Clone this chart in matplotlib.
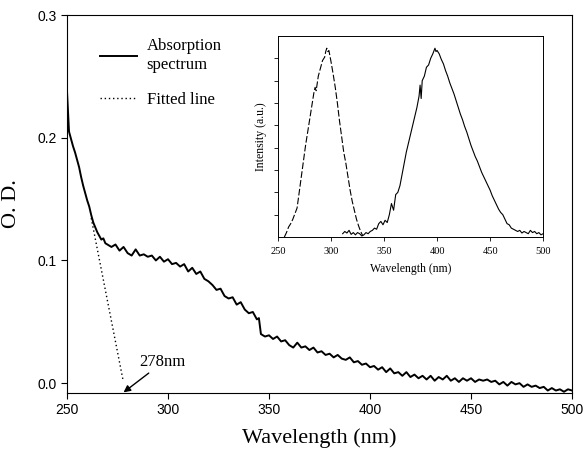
import matplotlib.pyplot as plt

# absorption spectrum (main panel)
wl_abs = [250, 250.5, 251, 252, 253, 254, 255, 256, 257, 258, 259, 260, 261, 262, 263, 264,
          265, 266, 267, 268, 269, 270, 272, 274, 276, 278, 280, 282, 284, 286, 288, 290,
          292, 294, 296, 298, 300, 302, 304, 306, 308, 310, 312, 314, 316, 318, 320, 322,
          324, 326, 328, 330, 332, 334, 336, 338, 340, 342, 344, 345, 346, 348, 350, 352,
          354, 356, 358, 360, 362, 364, 366, 368, 370, 372, 374, 376, 378, 380, 382, 384,
          386, 388, 390, 392, 394, 396, 398, 400, 402, 404, 406, 408, 410, 412, 414, 416,
          418, 420, 422, 424, 426, 428, 430, 432, 434, 436, 438, 440, 442, 444, 446, 448,
          450, 452, 454, 456, 458, 460, 462, 464, 466, 468, 470, 472, 474, 476, 478, 480,
          482, 484, 486, 488, 490, 492, 494, 496, 498, 500]
od_abs = [0.238, 0.222, 0.205, 0.199, 0.193, 0.188, 0.182, 0.176, 0.168, 0.161, 0.155, 0.149,
          0.144, 0.137, 0.131, 0.127, 0.123, 0.120, 0.117, 0.118, 0.114, 0.113, 0.111, 0.113,
          0.108, 0.111, 0.106, 0.104, 0.109, 0.104, 0.105, 0.103, 0.104, 0.100, 0.103, 0.099,
          0.101, 0.097, 0.098, 0.095, 0.097, 0.091, 0.094, 0.089, 0.091, 0.085, 0.083, 0.080,
          0.076, 0.077, 0.071, 0.069, 0.070, 0.064, 0.066, 0.060, 0.057, 0.058, 0.052, 0.053,
          0.040, 0.038, 0.039, 0.036, 0.038, 0.034, 0.035, 0.031, 0.029, 0.033, 0.029, 0.030,
          0.027, 0.029, 0.025, 0.026, 0.023, 0.024, 0.021, 0.023, 0.020, 0.019, 0.021, 0.017,
          0.018, 0.015, 0.016, 0.013, 0.014, 0.011, 0.013, 0.009, 0.012, 0.008, 0.009, 0.006,
          0.009, 0.005, 0.007, 0.004, 0.006, 0.003, 0.006, 0.002, 0.005, 0.003, 0.006, 0.002,
          0.004, 0.001, 0.004, 0.002, 0.004, 0.001, 0.003, 0.002, 0.003, 0.001, 0.002, -0.001,
          0.001, -0.002, 0.001, -0.001, 0.000, -0.003, -0.001, -0.003, -0.002, -0.004, -0.003,
          -0.006, -0.004, -0.006, -0.005, -0.007, -0.005, -0.006]

# linear fit of the absorption edge
wl_fit = [262, 277.8]
od_fit = [0.1345, 0.002]

# inset: excitation (dashed) and emission (solid)
wl_ex = [256, 258, 260, 262, 264, 266, 268, 270, 272, 274, 276, 278, 280, 282, 284, 285, 286,
         288, 290, 292, 294, 295, 296, 297, 298, 299, 300, 302, 304, 306, 308, 310, 312, 314,
         316, 318, 320, 322, 324, 326, 328, 330]
int_ex = [0.0, 0.2, 0.45, 0.6, 0.8, 1.05, 1.3, 2.0, 2.7, 3.4, 4.1, 4.7, 5.3, 5.9, 6.5, 6.7, 6.55,
          7.2, 7.55, 7.9, 8.05, 8.3, 8.45, 8.3, 8.35, 8.1, 7.85, 7.3, 6.7, 6.0, 5.2, 4.5, 3.8, 3.3,
          2.7, 2.1, 1.6, 1.2, 0.8, 0.5, 0.25, 0.05]
wl_em = [311, 313, 315, 317, 319, 321, 323, 325, 327, 329, 331, 333, 335, 337, 339, 341, 343,
         345, 347, 349, 351, 353, 355, 357, 359, 361, 363, 365, 367, 369, 371, 373, 375, 377,
         379, 381, 383, 384, 385, 386, 388, 390, 392, 394, 396, 398, 399, 400, 402, 404, 406,
         408, 410, 412, 414, 416, 418, 420, 422, 424, 426, 428, 430, 432, 434, 436, 438, 440,
         442, 444, 446, 448, 450, 452, 454, 456, 458, 460, 462, 464, 466, 468, 470, 472, 474,
         476, 478, 480, 482, 484, 486, 488, 490, 492, 494, 496, 498, 500]
int_em = [0.15, 0.25, 0.18, 0.3, 0.12, 0.2, 0.1, 0.2, 0.15, 0.05, 0.1, 0.2, 0.15, 0.25, 0.3, 0.4,
          0.35, 0.6, 0.7, 0.55, 0.75, 0.65, 1.0, 1.5, 1.2, 1.9, 2.0, 2.3, 2.8, 3.3, 3.8, 4.2, 4.6,
          5.0, 5.4, 5.8, 6.3, 6.8, 6.2, 7.0, 7.2, 7.6, 7.7, 8.0, 8.2, 8.45, 8.3, 8.35, 8.2, 7.95,
          7.75, 7.45, 7.2, 6.9, 6.65, 6.4, 6.1, 5.8, 5.5, 5.25, 4.95, 4.7, 4.4, 4.1, 3.85, 3.6,
          3.4, 3.15, 2.9, 2.7, 2.5, 2.3, 2.1, 1.85, 1.65, 1.45, 1.25, 1.1, 1.0, 0.8, 0.6, 0.55,
          0.4, 0.35, 0.3, 0.25, 0.3, 0.18, 0.25, 0.2, 0.15, 0.3, 0.2, 0.25, 0.15, 0.2, 0.1, 0.15]

serif = "Liberation Serif"
sans = "Liberation Sans"

fig = plt.figure(figsize=(5.84, 4.55), dpi=100)
ax = fig.add_axes([0.1147, 0.1363, 0.8648, 0.8307])

ax.plot(wl_abs, od_abs, color="black", lw=1.4, label="Absorption\nspectrum")
ax.plot(wl_fit, od_fit, color="black", lw=1.0, ls=(0, (1, 2)), label="Fitted line")
ax.set_xlim(250, 500)
ax.set_ylim(-0.008, 0.3)
ax.set_xticks([250, 300, 350, 400, 450, 500])
ax.set_yticks([0.0, 0.1, 0.2, 0.3])
ax.set_yticklabels(["0.0", "0.1", "0.2", "0.3"])
for t in ax.get_xticklabels() + ax.get_yticklabels():
    t.set_fontfamily(sans)
    t.set_fontsize(10)
ax.tick_params(direction="out", length=4, width=0.8)
ax.set_xlabel("Wavelength (nm)", fontfamily=serif, fontsize=16, labelpad=8)
ax.set_ylabel("O. D.", fontfamily=serif, fontsize=16, labelpad=12)

leg = ax.legend(loc="upper left", bbox_to_anchor=(0.049, 0.96), frameon=False,
                prop={"family": serif, "size": 12}, handlelength=2.2, handletextpad=0.6,
                labelspacing=1.15, borderpad=0)

ax.annotate("278nm", xy=(278, -0.0075), xytext=(286, 0.017), fontfamily=serif, fontsize=12,
            ha="left", va="center",
            arrowprops=dict(arrowstyle="-|>", color="black", lw=1.0, mutation_scale=10,
                            shrinkA=0, shrinkB=0))

# inset
ins = fig.add_axes([0.476, 0.479, 0.454, 0.442])
ins.plot(wl_ex, int_ex, color="black", lw=0.8, ls=(0, (6, 2)))
ins.plot(wl_em, int_em, color="black", lw=0.8)
ins.set_xlim(250, 500)
ins.set_ylim(0, 9)
ins.set_xticks([250, 300, 350, 400, 450, 500])
ins.set_yticks([1, 2, 3, 4, 5, 6, 7, 8])
ins.set_yticklabels([])
for t in ins.get_xticklabels():
    t.set_fontfamily(serif)
    t.set_fontsize(7.5)
ins.tick_params(direction="out", length=3, width=0.6, pad=4)
ins.set_xlabel("Wavelength (nm)", fontfamily=serif, fontsize=8.5, labelpad=5)
ins.set_ylabel("Intensity (a.u.)", fontfamily=serif, fontsize=8.5, labelpad=1)
for s in ins.spines.values():
    s.set_linewidth(0.7)

plt.savefig("out.png", dpi=100)
